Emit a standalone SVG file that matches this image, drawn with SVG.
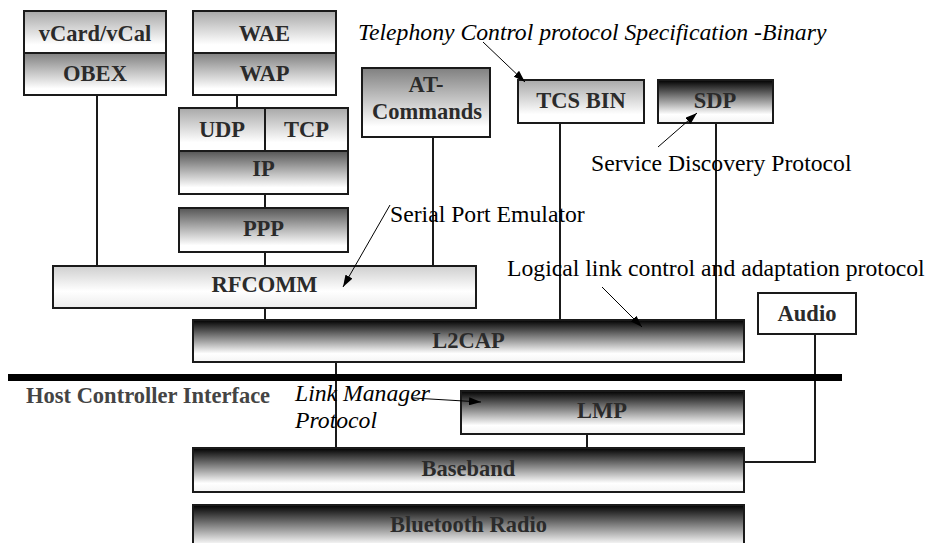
<svg xmlns="http://www.w3.org/2000/svg" width="930" height="543" viewBox="0 0 930 543">
<defs>
<linearGradient id="gBlack" x1="0" y1="0" x2="0" y2="1"><stop offset="0" stop-color="#000"/><stop offset="0.8" stop-color="#fff"/><stop offset="1" stop-color="#f4f4f4"/></linearGradient>
<linearGradient id="gDark" x1="0" y1="0" x2="0" y2="1"><stop offset="0" stop-color="#555"/><stop offset="0.85" stop-color="#fff"/><stop offset="1" stop-color="#fff"/></linearGradient>
<linearGradient id="gMid" x1="0" y1="0" x2="0" y2="1"><stop offset="0" stop-color="#808080"/><stop offset="0.85" stop-color="#fff"/><stop offset="1" stop-color="#fff"/></linearGradient>
<linearGradient id="gLight" x1="0" y1="0" x2="0" y2="1"><stop offset="0" stop-color="#a8a8a8"/><stop offset="0.8" stop-color="#fff"/><stop offset="1" stop-color="#fff"/></linearGradient>
<linearGradient id="gPale" x1="0" y1="0" x2="0" y2="1"><stop offset="0" stop-color="#cfcfcf"/><stop offset="0.6" stop-color="#fff"/><stop offset="1" stop-color="#ececec"/></linearGradient>
<marker id="ah" viewBox="0 0 12 8" refX="12" refY="4" markerWidth="12" markerHeight="8" markerUnits="userSpaceOnUse" orient="auto"><path d="M0,0 L12,4 L0,8 z" fill="#000"/></marker>
</defs>
<style>
.box{stroke:#1a1a1a;stroke-width:2}
.lbl{font-weight:bold;font-size:22.5px;fill:#2b2b2b;text-anchor:middle}
.ann{font-size:23.7px;fill:#000}
.it{font-style:italic}
.conn{stroke:#1a1a1a;stroke-width:2;fill:none}
.arr{stroke:#000;stroke-width:1;fill:none;marker-end:url(#ah)}
</style>
<rect width="930" height="543" fill="#fff"/>

<g id="connectors">
<line class="conn" x1="97" y1="95" x2="97" y2="266"/>
<line class="conn" x1="237" y1="95" x2="237" y2="108"/>
<line class="conn" x1="265" y1="194" x2="265" y2="208"/>
<line class="conn" x1="265" y1="252" x2="265" y2="266"/>
<line class="conn" x1="265" y1="308" x2="265" y2="320"/>
<line class="conn" x1="433" y1="137" x2="433" y2="266"/>
<line class="conn" x1="560" y1="123" x2="560" y2="320"/>
<line class="conn" x1="716" y1="123" x2="716" y2="320"/>
<line class="conn" x1="336" y1="362" x2="336" y2="448"/>
<line class="conn" x1="587" y1="434" x2="587" y2="448"/>
<polyline class="conn" points="815,334 815,462 744,462"/>
</g>

<g font-family="Liberation Serif, Times New Roman, DejaVu Serif, serif">
<g id="vcard-obex">
<rect class="box" x="24" y="11" width="142" height="42" fill="url(#gLight)"/>
<rect class="box" x="24" y="53" width="142" height="42" fill="url(#gMid)"/>
<text class="lbl" x="95" y="41">vCard/vCal</text>
<text class="lbl" x="95" y="81">OBEX</text>
</g>

<g id="wae-wap">
<rect class="box" x="193" y="11" width="143" height="42" fill="url(#gLight)"/>
<rect class="box" x="193" y="53" width="143" height="42" fill="url(#gMid)"/>
<text class="lbl" x="264.5" y="41">WAE</text>
<text class="lbl" x="264.5" y="81">WAP</text>
</g>

<g id="udp-tcp-ip">
<rect class="box" x="179" y="108" width="86" height="43" fill="url(#gLight)"/>
<rect class="box" x="265" y="108" width="83" height="43" fill="url(#gLight)"/>
<rect class="box" x="179" y="151" width="169" height="43" fill="url(#gDark)"/>
<text class="lbl" x="222" y="137">UDP</text>
<text class="lbl" x="306.5" y="137">TCP</text>
<text class="lbl" x="263.5" y="176">IP</text>
</g>

<g id="ppp">
<rect class="box" x="179" y="208" width="169" height="44" fill="url(#gDark)"/>
<text class="lbl" x="263.5" y="236">PPP</text>
</g>

<g id="rfcomm">
<rect class="box" x="53" y="266" width="423" height="42" fill="url(#gPale)"/>
<text class="lbl" x="264.5" y="292">RFCOMM</text>
</g>

<g id="at-commands">
<rect class="box" x="362" y="68" width="128" height="69" fill="url(#gMid)"/>
<text class="lbl" x="426" y="92">AT-</text>
<text class="lbl" x="427" y="119">Commands</text>
</g>

<g id="tcs-bin">
<rect class="box" x="518" y="80" width="126" height="43" fill="url(#gLight)"/>
<text class="lbl" x="581" y="108">TCS BIN</text>
</g>

<g id="sdp">
<rect class="box" x="658" y="80" width="115" height="43" fill="url(#gBlack)"/>
<text class="lbl" x="715" y="108">SDP</text>
</g>

<g id="l2cap">
<rect class="box" x="193" y="320" width="551" height="42" fill="url(#gBlack)"/>
<text class="lbl" x="468.5" y="348">L2CAP</text>
</g>

<g id="audio">
<rect class="box" x="758" y="293" width="98" height="41" fill="#fff"/>
<text class="lbl" x="807" y="321">Audio</text>
</g>

<g id="hci">
<rect x="8" y="374" width="834" height="7" fill="#000"/>
<text class="lbl" x="26" y="403" style="text-anchor:start;fill:#444">Host Controller Interface</text>
</g>

<g id="lmp">
<rect class="box" x="461" y="391" width="283" height="43" fill="url(#gBlack)"/>
<text class="lbl" x="602" y="418">LMP</text>
</g>

<g id="baseband">
<rect class="box" x="193" y="448" width="551" height="44" fill="url(#gBlack)"/>
<text class="lbl" x="468.5" y="476">Baseband</text>
</g>

<g id="bluetooth-radio">
<rect class="box" x="193" y="505" width="551" height="50" fill="url(#gBlack)"/>
<text class="lbl" x="468.5" y="532">Bluetooth Radio</text>
</g>

<g id="annotations">
<text class="ann it" x="358" y="40">Telephony Control protocol Specification -Binary</text>
<line class="arr" x1="483" y1="42" x2="525" y2="82"/>
<text class="ann" x="591" y="171">Service Discovery Protocol</text>
<line class="arr" x1="658" y1="147" x2="697" y2="113"/>
<text class="ann" x="390" y="222">Serial Port Emulator</text>
<line class="arr" x1="390" y1="205" x2="343" y2="287"/>
<text class="ann" x="507" y="276">Logical link control and adaptation protocol</text>
<line class="arr" x1="602" y1="287" x2="642" y2="327"/>
<text class="ann it" x="295" y="401">Link Manager</text>
<text class="ann it" x="295" y="428">Protocol</text>
<line class="arr" x1="413" y1="398" x2="481" y2="402"/>
</g>
</g>
</svg>
